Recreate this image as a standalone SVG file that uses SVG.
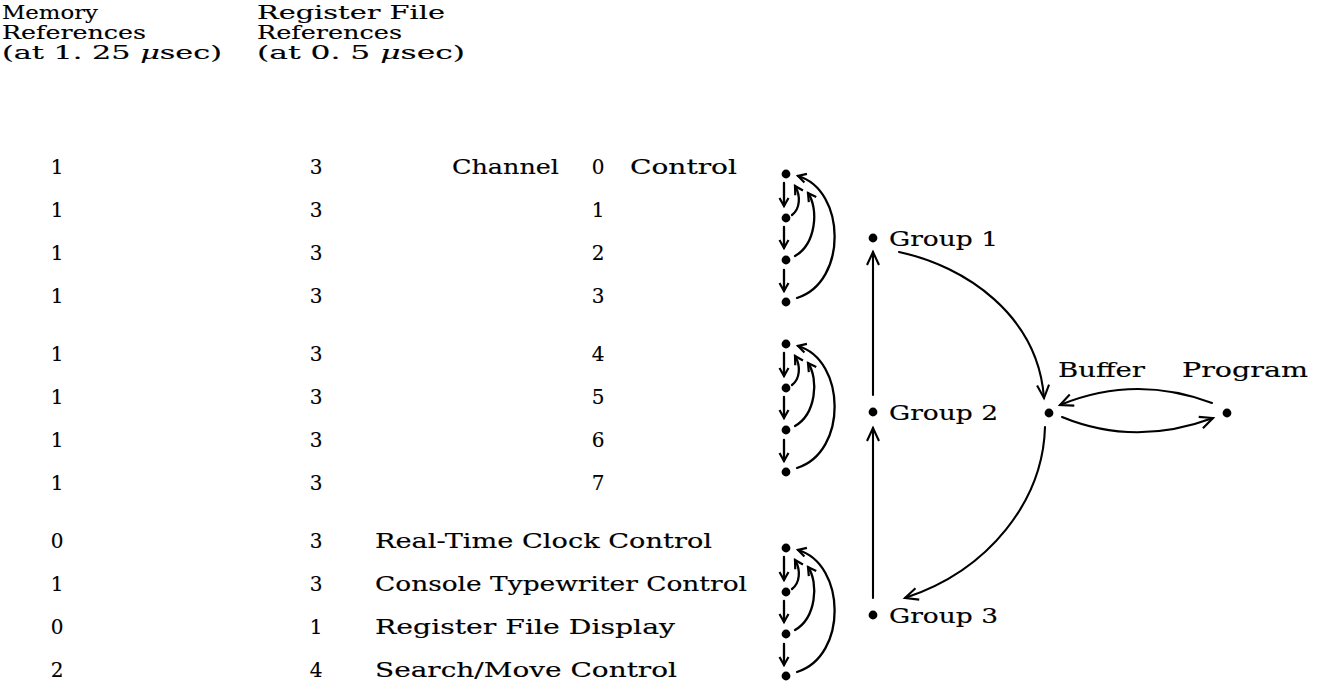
<svg xmlns="http://www.w3.org/2000/svg" width="1326" height="684" viewBox="0 0 1326 684">
<style>
text{font-family:"DejaVu Serif","Liberation Serif",serif;font-size:20px;fill:#000;stroke:#000;stroke-width:0.15}
.hd{font-size:19px}
.mid{text-anchor:middle}
.dot{fill:#000}
.ln{fill:none;stroke:#000;stroke-width:2.1;stroke-linecap:round}
.cl{fill:none;stroke:#000;stroke-width:2.3;stroke-linecap:round}
.mu{font-style:italic}
</style>
<defs>
<marker id="a" markerUnits="userSpaceOnUse" markerWidth="18" markerHeight="18" viewBox="-15 -9 18 18" refX="0" refY="0" orient="auto"><path d="M-13,-6 L0,0 L-13,6" fill="none" stroke="#000" stroke-width="2.1"/></marker>
<marker id="s" markerUnits="userSpaceOnUse" markerWidth="14" markerHeight="14" viewBox="-11 -7 14 14" refX="0" refY="0" orient="auto"><path d="M-8,-4.5 L0,0 L-8,4.5" fill="none" stroke="#000" stroke-width="2.2"/></marker>
</defs>
<rect width="1326" height="684" fill="#fff"/>
<g id="header">
<text class="hd" x="2" y="19" textLength="96" lengthAdjust="spacingAndGlyphs">Memory</text>
<text class="hd" x="2" y="39" textLength="144" lengthAdjust="spacingAndGlyphs">References</text>
<text class="hd" x="2" y="59" textLength="220" lengthAdjust="spacingAndGlyphs">(at 1. 25 <tspan class="mu">μ</tspan>sec)</text>
<text class="hd" x="257" y="19" textLength="188" lengthAdjust="spacingAndGlyphs">Register File</text>
<text class="hd" x="257" y="39" textLength="145" lengthAdjust="spacingAndGlyphs">References</text>
<text class="hd" x="257" y="59" textLength="208" lengthAdjust="spacingAndGlyphs">(at 0. 5 <tspan class="mu">μ</tspan>sec)</text>
</g>
<g id="table">
<g id="row0"><text class="mid" x="57" y="174">1</text><text class="mid" x="316" y="174">3</text><text x="452" y="174" textLength="107" lengthAdjust="spacingAndGlyphs">Channel</text><text class="mid" x="598" y="174">0</text><text x="630" y="174" textLength="107" lengthAdjust="spacingAndGlyphs">Control</text></g>
<g id="row1"><text class="mid" x="57" y="217">1</text><text class="mid" x="316" y="217">3</text><text class="mid" x="598" y="217">1</text></g>
<g id="row2"><text class="mid" x="57" y="260">1</text><text class="mid" x="316" y="260">3</text><text class="mid" x="598" y="260">2</text></g>
<g id="row3"><text class="mid" x="57" y="303">1</text><text class="mid" x="316" y="303">3</text><text class="mid" x="598" y="303">3</text></g>
<g id="row4"><text class="mid" x="57" y="361">1</text><text class="mid" x="316" y="361">3</text><text class="mid" x="598" y="361">4</text></g>
<g id="row5"><text class="mid" x="57" y="404">1</text><text class="mid" x="316" y="404">3</text><text class="mid" x="598" y="404">5</text></g>
<g id="row6"><text class="mid" x="57" y="447">1</text><text class="mid" x="316" y="447">3</text><text class="mid" x="598" y="447">6</text></g>
<g id="row7"><text class="mid" x="57" y="490">1</text><text class="mid" x="316" y="490">3</text><text class="mid" x="598" y="490">7</text></g>
<g id="row8"><text class="mid" x="57" y="548">0</text><text class="mid" x="316" y="548">3</text><text x="375" y="548" textLength="337" lengthAdjust="spacingAndGlyphs">Real-Time Clock Control</text></g>
<g id="row9"><text class="mid" x="57" y="591">1</text><text class="mid" x="316" y="591">3</text><text x="375" y="591" textLength="372" lengthAdjust="spacingAndGlyphs">Console Typewriter Control</text></g>
<g id="row10"><text class="mid" x="57" y="634">0</text><text class="mid" x="316" y="634">1</text><text x="375" y="634" textLength="300" lengthAdjust="spacingAndGlyphs">Register File Display</text></g>
<g id="row11"><text class="mid" x="57" y="677">2</text><text class="mid" x="316" y="677">4</text><text x="375" y="677" textLength="302" lengthAdjust="spacingAndGlyphs">Search/Move Control</text></g>
</g>
<g id="ch0"><circle class="dot" cx="786" cy="174" r="4.4"/></g>
<g id="ch1"><circle class="dot" cx="786" cy="218" r="4.4"/></g>
<g id="ch2"><circle class="dot" cx="786" cy="260" r="4.4"/></g>
<g id="ch3"><circle class="dot" cx="786" cy="302" r="4.4"/></g>
<g id="ch4"><circle class="dot" cx="786" cy="344" r="4.4"/></g>
<g id="ch5"><circle class="dot" cx="786" cy="388" r="4.4"/></g>
<g id="ch6"><circle class="dot" cx="786" cy="430" r="4.4"/></g>
<g id="ch7"><circle class="dot" cx="786" cy="472" r="4.4"/></g>
<g id="rtc"><circle class="dot" cx="786" cy="548" r="4.4"/></g>
<g id="typewriter"><circle class="dot" cx="786" cy="592" r="4.4"/></g>
<g id="display"><circle class="dot" cx="786" cy="634" r="4.4"/></g>
<g id="search"><circle class="dot" cx="786" cy="676" r="4.4"/></g>
<g id="group1"><circle class="dot" cx="873" cy="238" r="4.4"/><text x="889" y="246" textLength="109" lengthAdjust="spacingAndGlyphs">Group 1</text></g>
<g id="group2"><circle class="dot" cx="873" cy="412" r="4.4"/><text x="889" y="420" textLength="109" lengthAdjust="spacingAndGlyphs">Group 2</text></g>
<g id="group3"><circle class="dot" cx="873" cy="615" r="4.4"/><text x="889" y="623" textLength="109" lengthAdjust="spacingAndGlyphs">Group 3</text></g>
<g id="buffer"><circle class="dot" cx="1049" cy="413" r="4.4"/><text x="1058" y="377" textLength="87" lengthAdjust="spacingAndGlyphs">Buffer</text></g>
<g id="program"><circle class="dot" cx="1227" cy="413" r="4.4"/><text x="1182" y="377" textLength="126" lengthAdjust="spacingAndGlyphs">Program</text></g>
<g id="connectors">
<path class="cl" marker-end="url(#s)" d="M784,183 V206"/>
<path class="cl" marker-end="url(#s)" d="M784,227 V248"/>
<path class="cl" marker-end="url(#s)" d="M784,270 V291"/>
<path class="cl" marker-end="url(#s)" d="M792,215 C800,209 801,196 795,186"/>
<path class="cl" marker-end="url(#s)" d="M795,256 C816,244 819,209 808,193"/>
<path class="cl" marker-end="url(#s)" d="M797,298 C848,282 846,190 798,176"/>
<path class="cl" marker-end="url(#s)" d="M784,353 V376"/>
<path class="cl" marker-end="url(#s)" d="M784,397 V418"/>
<path class="cl" marker-end="url(#s)" d="M784,440 V461"/>
<path class="cl" marker-end="url(#s)" d="M792,385 C800,379 801,366 795,356"/>
<path class="cl" marker-end="url(#s)" d="M795,426 C816,414 819,379 808,363"/>
<path class="cl" marker-end="url(#s)" d="M797,468 C848,452 846,360 798,346"/>
<path class="cl" marker-end="url(#s)" d="M784,557 V580"/>
<path class="cl" marker-end="url(#s)" d="M784,601 V622"/>
<path class="cl" marker-end="url(#s)" d="M784,644 V665"/>
<path class="cl" marker-end="url(#s)" d="M792,589 C800,583 801,570 795,560"/>
<path class="cl" marker-end="url(#s)" d="M795,630 C816,618 819,583 808,567"/>
<path class="cl" marker-end="url(#s)" d="M797,672 C848,656 846,564 798,550"/>
<path class="ln" marker-end="url(#a)" d="M873,395 V252"/>
<path class="ln" marker-end="url(#a)" d="M873,598 V428"/>
<path class="ln" marker-end="url(#a)" d="M899,252 C965,266 1038,315 1044,398"/>
<path class="ln" marker-end="url(#a)" d="M1045,427 C1043,500 990,570 905,598"/>
<path class="ln" marker-end="url(#a)" d="M1212,403 Q1135,374 1060,405"/>
<path class="ln" marker-end="url(#a)" d="M1062,417 Q1135,447 1213,418"/>
</g>
</svg>
